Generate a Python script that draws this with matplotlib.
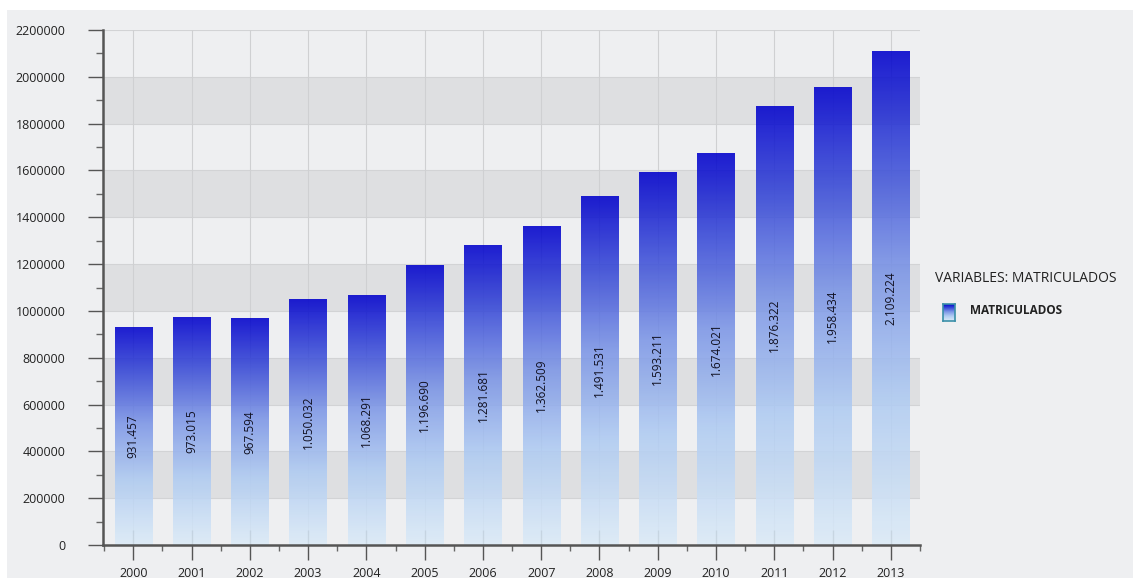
import matplotlib.pyplot as plt
import numpy as np
from matplotlib.colors import LinearSegmentedColormap
from matplotlib.patches import Rectangle

years = ["2000", "2001", "2002", "2003", "2004", "2005", "2006",
         "2007", "2008", "2009", "2010", "2011", "2012", "2013"]
matriculados = [931457, 973015, 967594, 1050032, 1068291, 1196690, 1281681,
                1362509, 1491531, 1593211, 1674021, 1876322, 1958434, 2109224]
y_ticks = [0, 200000, 400000, 600000, 800000, 1000000, 1200000,
           1400000, 1600000, 1800000, 2000000, 2200000]

plt.rcParams["font.family"] = ["Open Sans", "DejaVu Sans"]

cmap = LinearSegmentedColormap.from_list(
    "matric",
    [(0.0, "#DCEBF7"), (0.3, "#AFCBF2"), (0.55, "#7C96E6"),
     (0.8, "#3344D6"), (1.0, "#0000CC")])
grad = np.linspace(0, 1, 256).reshape(-1, 1)

fig = plt.figure(figsize=(11.33, 5.78), dpi=100, facecolor="white")
fig.patches.append(Rectangle((7 / 1133, 0), 1, 1 - 10 / 578,
                             transform=fig.transFigure,
                             facecolor="#EEEFF1", edgecolor="none", zorder=-10))

ax = fig.add_axes([103 / 1133, 1 - 545 / 578, (920 - 103) / 1133, (545 - 30) / 578])
ax.set_facecolor("#EEEFF1")

x = np.arange(len(years))

# bandas alternadas
for k in range(1, len(y_ticks) - 1, 2):
    ax.axhspan(y_ticks[k], y_ticks[k + 1], color="#DEDFE1", zorder=0, lw=0)
for t in y_ticks[1:]:
    ax.axhline(t, color="#D2D3D5", lw=0.8, zorder=0.5)
for xi in x:
    ax.axvline(xi, color="#CFD0D2", lw=0.8, zorder=0.5)

bars = ax.bar(x, matriculados, width=0.64, facecolor="none",
              edgecolor="none", zorder=3)
for b, v in zip(bars, matriculados):
    x0, w, h = b.get_x(), b.get_width(), b.get_height()
    im = ax.imshow(grad, extent=[x0, x0 + w, 0, h], origin="lower",
                   aspect="auto", cmap=cmap, alpha=0.88, zorder=2,
                   interpolation="bilinear")
    im.set_clip_path(b)
    ax.text(x0 + w / 2, h / 2, f"{v:,}".replace(",", "."), rotation=90,
            ha="center", va="center", fontsize=8.5, color="#111122", zorder=4)

ax.set_xlim(-0.52, len(years) - 0.5)
ax.set_ylim(0, 2200000)

ax.set_xticks(x)
ax.set_xticklabels(years)
ax.set_xticks(np.arange(-0.5, len(years), 1), minor=True)
ax.set_yticks(y_ticks)
ax.set_yticklabels([str(t) for t in y_ticks])
ax.set_yticks(np.arange(100000, 2200000, 200000), minor=True)

ax.tick_params(axis="x", which="major", direction="inout", length=22, width=1,
               color="#555555", labelsize=9, pad=5, labelcolor="#222222")
ax.tick_params(axis="x", which="minor", direction="out", length=4, width=1,
               color="#666666")
ax.tick_params(axis="y", which="major", direction="out", length=11, width=1,
               color="#555555", labelsize=9, pad=16, labelcolor="#222222")
ax.tick_params(axis="y", which="minor", direction="out", length=5, width=1,
               color="#666666")

for s in ["top", "right"]:
    ax.spines[s].set_visible(False)
for s in ["left", "bottom"]:
    ax.spines[s].set_color("#555555")
    ax.spines[s].set_linewidth(1.8)

# leyenda
fig.text(935 / 1133, 1 - 278 / 578, "VARIABLES: MATRICULADOS", fontsize=10,
         color="#222222", va="center", ha="left")
lax = fig.add_axes([943 / 1133, 1 - 321 / 578, 12 / 1133, 17 / 578])
lax.imshow(grad, origin="lower", aspect="auto", cmap=cmap, extent=[0, 1, 0, 1])
lax.set_xticks([])
lax.set_yticks([])
for s in lax.spines.values():
    s.set_color("#3A8FA8")
    s.set_linewidth(1.2)
fig.text(970 / 1133, 1 - 311 / 578, "MATRICULADOS", fontsize=8.5,
         fontweight="bold", color="#222222", va="center", ha="left")

fig.savefig("out.png", dpi=100, facecolor=fig.get_facecolor())
